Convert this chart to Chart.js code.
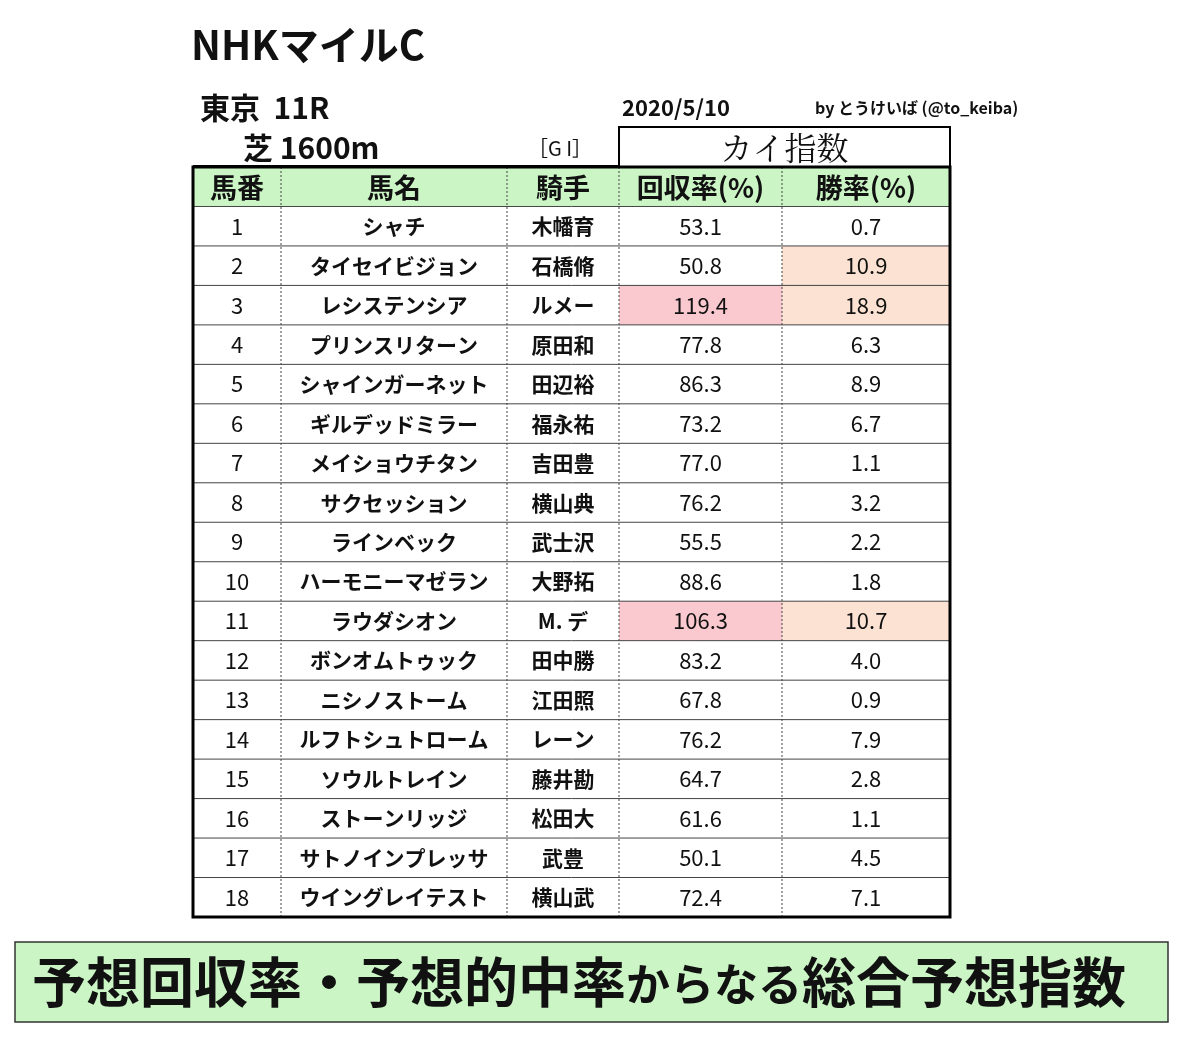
<!DOCTYPE html>
<html>
<head>
<meta charset="utf-8">
<script src="https://cdn.jsdelivr.net/npm/chart.js@4"></script>
<style>
  body { margin: 0; background: #fff; }
  #wrap { width: 1200px; height: 1040px; position: relative; }
</style>
</head>
<body>
<div id="wrap"><canvas id="myChart" width="1200" height="1040"></canvas></div>
<script>
// Datos de la tabla
var headers = ["馬番", "馬名", "騎手", "回収率(%)", "勝率(%)"];
var numbers = [1, 2, 3, 4, 5, 6, 7, 8, 9, 10, 11, 12, 13, 14, 15, 16, 17, 18];
var horses = ["シャチ", "タイセイビジョン", "レシステンシア", "プリンスリターン", "シャインガーネット",
  "ギルデッドミラー", "メイショウチタン", "サクセッション", "ラインベック", "ハーモニーマゼラン",
  "ラウダシオン", "ボンオムトゥック", "ニシノストーム", "ルフトシュトローム", "ソウルトレイン",
  "ストーンリッジ", "サトノインプレッサ", "ウイングレイテスト"];
var jockeys = ["木幡育", "石橋脩", "ルメー", "原田和", "田辺裕", "福永祐", "吉田豊", "横山典", "武士沢",
  "大野拓", "M. デ", "田中勝", "江田照", "レーン", "藤井勘", "松田大", "武豊", "横山武"];
var recovery = [53.1, 50.8, 119.4, 77.8, 86.3, 73.2, 77.0, 76.2, 55.5, 88.6, 106.3, 83.2, 67.8, 76.2, 64.7, 61.6, 50.1, 72.4];
var winRate = [0.7, 10.9, 18.9, 6.3, 8.9, 6.7, 1.1, 3.2, 2.2, 1.8, 10.7, 4.0, 0.9, 7.9, 2.8, 1.1, 4.5, 7.1];

var JP = '"Noto Sans CJK JP", sans-serif';

// Plugin para dibujar la tabla con las escalas del gráfico
var tablaPlugin = {
  id: 'tabla',
  afterDraw: function (chart) {
    var ctx = chart.ctx;
    var xs = chart.scales.x, ys = chart.scales.y;
    var edges = [0, 88, 314, 426, 589, 757];
    var X = function (v) { return xs.getPixelForValue(v); };
    var Y = function (v) { return ys.getPixelForValue(v); };
    var L = X(0), R = X(757), T = Y(0), B = Y(19);
    ctx.save();

    // título y cabecera
    ctx.fillStyle = '#111';
    ctx.textBaseline = 'middle';
    ctx.textAlign = 'left';
    ctx.font = 'bold 40px ' + JP;
    ctx.fillText('NHKマイルC', 191, 45);
    ctx.font = 'bold 30px ' + JP;
    ctx.fillText('東京  11R', 200, 108);
    ctx.fillText('芝 1600m', 243, 148);
    ctx.font = '20px ' + JP;
    ctx.fillText('［G I］', 528, 148);
    ctx.font = 'bold 22px ' + JP;
    ctx.fillText('2020/5/10', 622, 108);
    ctx.font = 'bold 16px ' + JP;
    ctx.fillText('by とうけいば (@to_keiba)', 815, 108);

    // caja "カイ指数"
    var kL = X(edges[3]);
    ctx.lineWidth = 2;
    ctx.strokeStyle = '#000';
    ctx.strokeRect(kL, 127, R - kL, T - 127);
    ctx.textAlign = 'center';
    ctx.font = '32px "Noto Serif CJK JP", ' + JP;
    ctx.fillText('カイ指数', (kL + R) / 2, 148);
    ctx.beginPath(); ctx.moveTo(L, 166); ctx.lineTo(kL, 166); ctx.stroke();

    // fondo cabecera
    ctx.fillStyle = '#ccf5c6';
    ctx.fillRect(L, T, R - L, Y(1) - T);

    // celdas resaltadas
    for (var i = 0; i < numbers.length; i++) {
      var y0 = Y(i + 1), y1 = Y(i + 2);
      if (recovery[i] >= 100) {
        ctx.fillStyle = '#f9c9cf';
        ctx.fillRect(X(edges[3]), y0, X(edges[4]) - X(edges[3]), y1 - y0);
      }
      if (winRate[i] >= 10) {
        ctx.fillStyle = '#fbe2d2';
        ctx.fillRect(X(edges[4]), y0, X(edges[5]) - X(edges[4]), y1 - y0);
      }
    }

    // líneas horizontales
    ctx.strokeStyle = '#444';
    ctx.lineWidth = 1;
    for (var r = 1; r < 19; r++) {
      ctx.beginPath(); ctx.moveTo(L, Y(r)); ctx.lineTo(R, Y(r)); ctx.stroke();
    }
    // líneas verticales punteadas
    ctx.setLineDash([2, 2]);
    for (var c = 1; c < edges.length - 1; c++) {
      ctx.beginPath(); ctx.moveTo(X(edges[c]), T); ctx.lineTo(X(edges[c]), B); ctx.stroke();
    }
    ctx.setLineDash([]);
    ctx.lineWidth = 3;
    ctx.strokeStyle = '#000';
    ctx.strokeRect(L, T, R - L, B - T);

    // textos
    ctx.fillStyle = '#111';
    ctx.textAlign = 'center';
    ctx.font = 'bold 27px ' + JP;
    for (var h = 0; h < headers.length; h++) {
      ctx.fillText(headers[h], (X(edges[h]) + X(edges[h + 1])) / 2, (Y(0) + Y(1)) / 2 + 1);
    }
    for (var k = 0; k < numbers.length; k++) {
      var cy = (Y(k + 1) + Y(k + 2)) / 2;
      var cols = [String(numbers[k]), horses[k], jockeys[k], recovery[k].toFixed(1), winRate[k].toFixed(1)];
      for (var j = 0; j < cols.length; j++) {
        ctx.font = (j === 1 || j === 2 ? 'bold 21px ' : '22px ') + JP;
        ctx.fillText(cols[j], (X(edges[j]) + X(edges[j + 1])) / 2, cy);
      }
    }

    // banner inferior
    ctx.fillStyle = '#ccf5c6';
    ctx.fillRect(15, 942, 1153, 80);
    ctx.strokeStyle = '#333';
    ctx.lineWidth = 1.5;
    ctx.strokeRect(15, 942, 1153, 80);
    ctx.fillStyle = '#111';
    ctx.textAlign = 'left';
    ctx.font = 'bold 54px ' + JP;
    var x0 = 32;
    ctx.fillText('予想回収率・予想的中率', x0, 982);
    x0 += ctx.measureText('予想回収率・予想的中率').width;
    ctx.font = 'bold 44px ' + JP;
    ctx.fillText('からなる', x0, 984);
    x0 += ctx.measureText('からなる').width;
    ctx.font = 'bold 54px ' + JP;
    ctx.fillText('総合予想指数', x0, 982);
    ctx.restore();
  }
};

new Chart(document.getElementById('myChart').getContext('2d'), {
  type: 'scatter',
  data: { datasets: [{ data: [] }] },
  options: {
    responsive: false,
    animation: false,
    devicePixelRatio: 1,
    layout: { padding: { left: 193, right: 250, top: 167, bottom: 123 } },
    plugins: { legend: { display: false }, tooltip: { enabled: false } },
    scales: {
      x: { type: 'linear', min: 0, max: 757, display: false },
      y: { type: 'linear', min: 0, max: 19, reverse: true, display: false }
    }
  },
  plugins: [tablaPlugin]
});
</script>
</body>
</html>
